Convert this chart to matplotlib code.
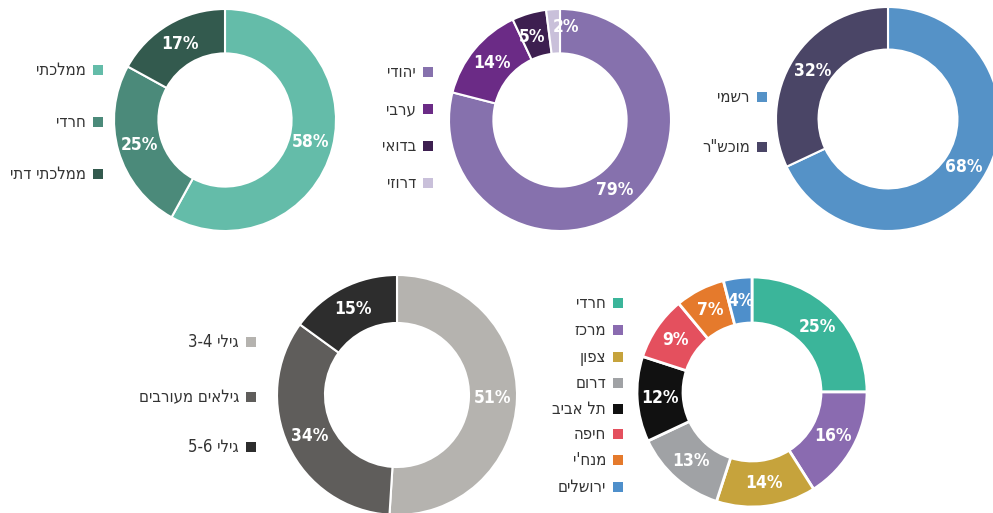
import matplotlib
matplotlib.use("Agg")
import matplotlib.pyplot as plt
from matplotlib.patches import Rectangle

W, H = 993, 513

# ---------------- data ----------------
school_labels = ["ממלכתי", "חרדי", "ממלכתי דתי"]
school_values = [58, 25, 17]
school_colors = ["#64BCA9", "#4B8A7A", "#335A4E"]

sector_labels = ["יהודי", "ערבי", "בדואי", "דרוזי"]
sector_values = [79, 14, 5, 2]
sector_colors = ["#8671AD", "#6B2B86", "#3D1F50", "#C9C0DA"]

status_labels = ["רשמי", 'מוכש"ר']
status_values = [68, 32]
status_colors = ["#5592C7", "#4A4566"]

age_labels = ["גילי 3-4", "גילאים מעורבים", "גילי 5-6"]
age_values = [51, 34, 15]
age_colors = ["#B5B3AF", "#5F5D5B", "#2D2D2D"]

district_labels = ["חרדי", "מרכז", "צפון", "דרום", "תל אביב", "חיפה", "מנח'י", "ירושלים"]
district_values = [25, 16, 14, 13, 12, 9, 7, 4]
district_colors = ["#3BB59A", "#8A6BB0", "#C6A33C", "#A0A2A5", "#111111",
                   "#E4505E", "#E57A2C", "#4E8FCB"]

FONT = ["DejaVu Sans"]


def visual(s):
    """Convert logical Hebrew text to visual (left-to-right drawing) order."""
    words = s.split(" ")
    out = []
    for w in reversed(words):
        if any("\u0590" <= c <= "\u05FF" for c in w):
            out.append(w[::-1])
        else:
            out.append(w)
    return " ".join(out)


fig = plt.figure(figsize=(W / 100, H / 100), dpi=100)
fig.patch.set_facecolor("white")


def donut(cx, cy, r, values, colors, width=0.4, pctd=0.8, lw=1.5):
    ax = fig.add_axes([(cx - r) / W, 1 - (cy + r) / H, 2 * r / W, 2 * r / H])
    _, _, autotexts = ax.pie(
        values, colors=colors, startangle=90, counterclock=False,
        radius=1.0, autopct=lambda p: f"{p:.0f}%", pctdistance=pctd,
        wedgeprops=dict(width=width, edgecolor="white", linewidth=lw),
        textprops=dict(color="white", fontsize=12.5, fontweight="bold",
                       family=FONT, stretch="condensed"))
    ax.set_xlim(-1.0, 1.0)
    ax.set_ylim(-1.0, 1.0)
    ax.set_aspect("equal")
    ax.axis("off")
    for p in ax.patches:
        p.set_clip_on(False)
    return ax, autotexts


def legend(sq_x, ys, labels, colors, text_gap=12):
    for y, lab, col in zip(ys, labels, colors):
        fig.patches.append(Rectangle(((sq_x - 5) / W, 1 - (y + 5) / H), 10 / W, 10 / H,
                                     transform=fig.transFigure, facecolor=col,
                                     edgecolor="none"))
        fig.text((sq_x - text_gap) / W, 1 - y / H, visual(lab), ha="right", va="center",
                 fontsize=12, color="#333333", family=FONT, stretch="condensed")


donut(225, 120, 111, school_values, school_colors)
legend(98, [70, 122, 174], school_labels, school_colors)

ax2, at2 = donut(560, 120, 111, sector_values, sector_colors)
# nudge the two small top labels apart
x, y = at2[3].get_position()
at2[3].set_position((x + 0.1, y + 0.04))
x, y = at2[2].get_position()
at2[2].set_position((x - 0.03, y - 0.02))
legend(428, [72, 109, 146, 183], sector_labels, sector_colors)

donut(888, 119, 112, status_values, status_colors, width=0.38)
legend(762, [97, 147], status_labels, status_colors)

donut(397, 395, 120, age_values, age_colors)
legend(251, [342, 397, 447], age_labels, age_colors)

donut(752, 392, 115, district_values, district_colors, lw=2)
legend(618, [303, 330, 357, 383, 409, 434, 460, 487], district_labels, district_colors)

fig.savefig("out.png", dpi=100)
